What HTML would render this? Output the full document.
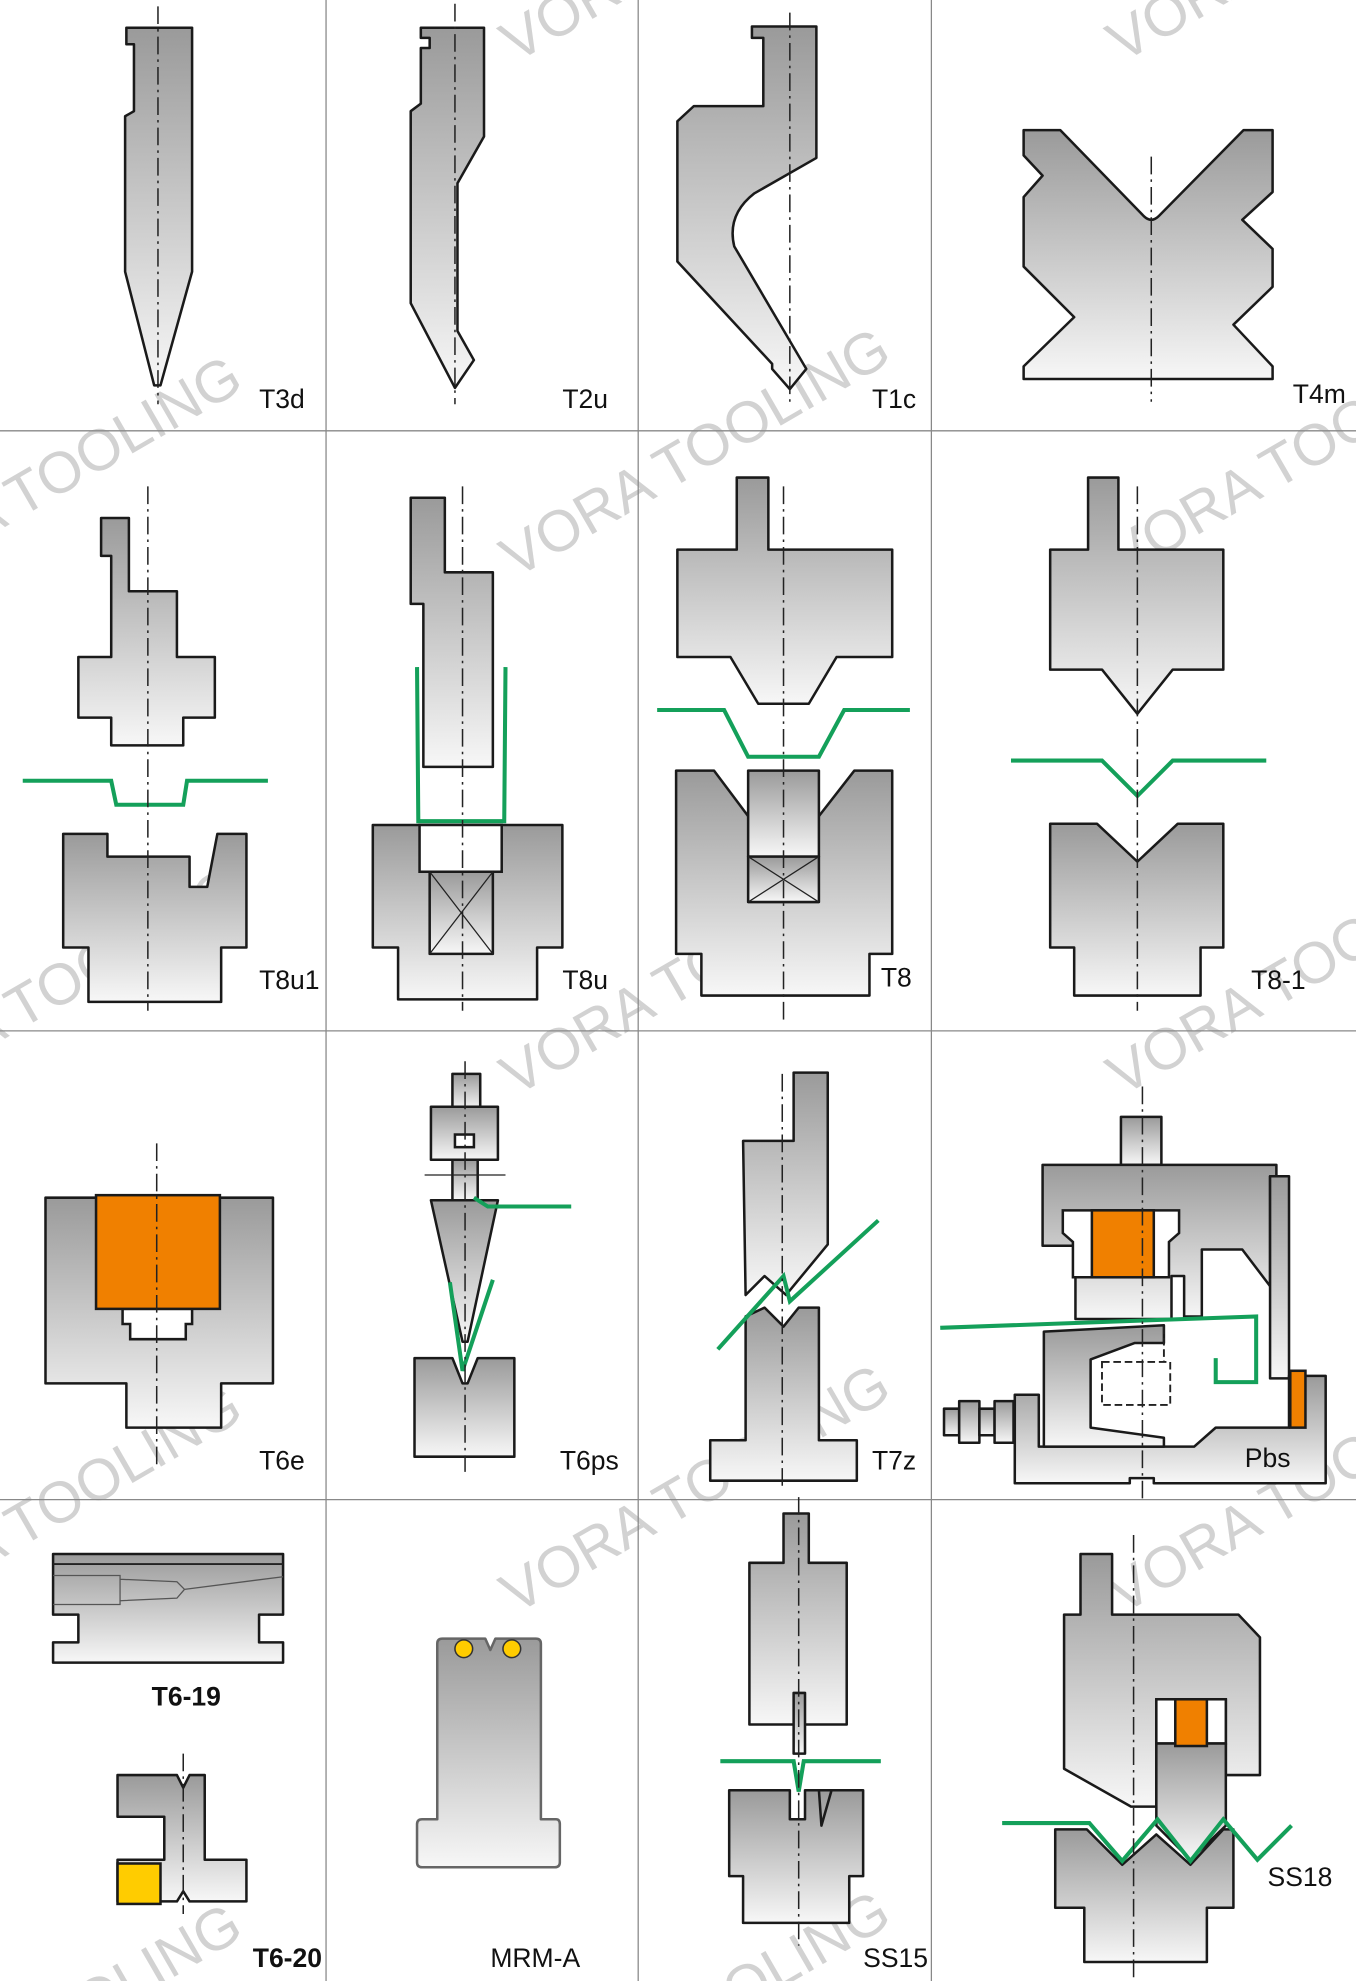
<!DOCTYPE html>
<html><head><meta charset="utf-8"><style>
html,body{margin:0;padding:0;background:#fff;width:1356px;height:1981px;overflow:hidden;}
svg{display:block;overflow:hidden;}
.s{fill:url(#g);stroke:#1a1a1a;stroke-width:2;stroke-linejoin:round;}
.c{stroke:#222;stroke-width:1.2;stroke-dasharray:14 4 2 4;fill:none;}
.gr{fill:none;stroke:#14a05a;stroke-width:3.2;stroke-linejoin:miter;}
.o{fill:#f08000;stroke:#1a1a1a;stroke-width:2;}
.w{fill:#fff;stroke:#1a1a1a;stroke-width:2;}
.l{font-family:"Liberation Sans Narrow","Liberation Sans",sans-serif;font-size:21px;fill:#111;}
.wm{font-family:"Liberation Sans",sans-serif;font-size:46px;fill:#d2d2d2;}
.grid{stroke:#888;stroke-width:1;}
</style></head><body>
<svg width="1356" height="1981" viewBox="0 0 1073 1568" preserveAspectRatio="none" xmlns="http://www.w3.org/2000/svg">
<defs>
<linearGradient id="g" x1="0" y1="0" x2="0" y2="1">
<stop offset="0" stop-color="#9a9a9a"/><stop offset="1" stop-color="#f7f7f7"/>
</linearGradient>
</defs>
<rect width="1073" height="1568" fill="#fff"/>

<!-- watermarks -->
<g class="wm">
<text transform="translate(408,50) rotate(-30)">VORA TOOLING</text>
<text transform="translate(888,50) rotate(-30)">VORA TOOLING</text>
<text transform="translate(-105,480) rotate(-30)">VORA TOOLING</text>
<text transform="translate(408,458) rotate(-30)">VORA TOOLING</text>
<text transform="translate(888,458) rotate(-30)">VORA TOOLING</text>
<text transform="translate(-105,885) rotate(-30)">VORA TOOLING</text>
<text transform="translate(408,868) rotate(-30)">VORA TOOLING</text>
<text transform="translate(888,868) rotate(-30)">VORA TOOLING</text>
<text transform="translate(-105,1295) rotate(-30)">VORA TOOLING</text>
<text transform="translate(408,1278) rotate(-30)">VORA TOOLING</text>
<text transform="translate(888,1278) rotate(-30)">VORA TOOLING</text>
<text transform="translate(-105,1705) rotate(-30)">VORA TOOLING</text>
<text transform="translate(408,1695) rotate(-30)">VORA TOOLING</text>
</g>

<!-- grid -->
<g class="grid">
<line x1="258" y1="0" x2="258" y2="1568"/><line x1="505" y1="0" x2="505" y2="1568"/><line x1="737" y1="0" x2="737" y2="1568"/>
<line x1="0" y1="341" x2="1073" y2="341"/><line x1="0" y1="816" x2="1073" y2="816"/><line x1="0" y1="1187" x2="1073" y2="1187"/>
</g>

<!-- T3d -->
<polygon class="s" points="100,22 152,22 152,215 127,305 122,305 99,215 99,92 106,88 106,35 100,35"/>
<line class="c" x1="125" y1="5" x2="125" y2="320"/>
<text class="l" x="205" y="323">T3d</text>

<!-- T2u -->
<polygon class="s" points="333,22 383,22 383,108 362,145 362,262 375,285 360,307 325,240 325,88 333,82 333,38 340,38 340,30 333,30"/>
<line class="c" x1="360" y1="3" x2="360" y2="320"/>
<text class="l" x="445" y="323">T2u</text>

<!-- T1c -->
<path class="s" d="M595,21 L646,21 L646,125 L597,153 Q575,170 581,195 L638,292 L625,308 L611,292 L611,288 L536,207 L536,96 L549,84 L604,84 L604,30 L595,30 Z"/>
<line class="c" x1="625" y1="10" x2="625" y2="320"/>
<text class="l" x="690" y="323">T1c</text>

<!-- T4m -->
<path class="s" d="M810,103 L839,103 L905,171 Q911,177 917,171 L984,103 L1007,103 L1007,152 L983,174 L1007,197 L1007,227 L976,257 L1007,290 L1007,300 L810,300 L810,290 L850,251 L810,211 L810,156 L825,139 L810,123 Z"/>
<line class="c" x1="911" y1="124" x2="911" y2="318"/>
<text class="l" x="1023" y="319">T4m</text>

<!-- T8u1 -->
<polygon class="s" points="80,410 102,410 102,468 140,468 140,520 170,520 170,568 145,568 145,590 88,590 88,568 62,568 62,520 88,520 88,440 80,440"/>
<polyline class="gr" points="18,618 88,618 92,637 145,637 148,618 212,618"/>
<polygon class="s" points="50,660 85,660 85,678 150,678 150,702 164,702 172,660 195,660 195,750 175,750 175,793 70,793 70,750 50,750"/>
<line class="c" x1="117" y1="385" x2="117" y2="800"/>
<text class="l" x="205" y="783">T8u1</text>

<!-- T8u -->
<polygon class="s" points="325,394 352,394 352,453 390,453 390,607 335,607 335,478 325,478"/>
<polyline class="gr" points="330,528 331,650 399,650 400,528"/>
<polygon class="s" points="295,653 445,653 445,750 425,750 425,791 315,791 315,750 295,750"/>
<rect class="w" x="332" y="653" width="65" height="37"/>
<rect class="s" x="340" y="690" width="50" height="65"/>
<path d="M340,690 L390,755 M390,690 L340,755" stroke="#222" stroke-width="1"/>
<line class="c" x1="366" y1="385" x2="366" y2="800"/>
<text class="l" x="445" y="783">T8u</text>

<!-- T8 -->
<polygon class="s" points="583,378 608,378 608,435 706,435 706,520 662,520 640,557 600,557 578,520 536,520 536,435 583,435"/>
<polyline class="gr" points="520,562 573,562 592,599 648,599 668,562 720,562"/>
<polygon class="s" points="535,610 565,610 592,646 648,646 676,610 706,610 706,755 688,755 688,788 555,788 555,755 535,755"/>
<rect class="s" x="592" y="610" width="56" height="68"/>
<rect class="s" x="592" y="678" width="56" height="36"/>
<path d="M592,678 L648,714 M648,678 L592,714" stroke="#222" stroke-width="1"/>
<line class="c" x1="620" y1="385" x2="620" y2="810"/>
<text class="l" x="697" y="781">T8</text>

<!-- T8-1 -->
<polygon class="s" points="861,378 885,378 885,435 968,435 968,530 928,530 900,565 872,530 831,530 831,435 861,435"/>
<polyline class="gr" points="800,602 872,602 900,630 928,602 1002,602"/>
<polygon class="s" points="831,652 868,652 900,682 932,652 968,652 968,750 950,750 950,788 850,788 850,750 831,750"/>
<line class="c" x1="900" y1="385" x2="900" y2="800"/>
<text class="l" x="990" y="783">T8-1</text>

<!-- T6e -->
<polygon class="s" points="36,948 216,948 216,1095 175,1095 175,1130 100,1130 100,1095 36,1095"/>
<polygon class="w" points="97,1036 152,1036 152,1048 147,1048 147,1060 103,1060 103,1048 97,1048"/>
<rect class="o" x="76" y="946" width="98" height="90"/>
<line class="c" x1="124" y1="905" x2="124" y2="1160"/>
<text class="l" x="205" y="1163">T6e</text>

<!-- T6ps -->
<rect class="s" x="358" y="850" width="22" height="28"/>
<rect class="s" x="341" y="876" width="53" height="42"/>
<rect class="w" x="360" y="898" width="15" height="10"/>
<rect class="s" x="358" y="918" width="20" height="32"/>
<line x1="336" y1="930" x2="400" y2="930" stroke="#222" stroke-width="1"/>
<polygon class="s" points="341,950 394,950 370,1062 366,1062"/>
<polyline class="gr" points="375,948 386,955 452,955"/>
<polygon class="s" points="328,1075 358,1075 366,1095 370,1095 378,1075 407,1075 407,1153 328,1153"/>
<polyline class="gr" points="356,1015 366,1085 390,1013"/>
<line class="c" x1="368" y1="840" x2="368" y2="1165"/>
<text class="l" x="443" y="1163">T6ps</text>

<!-- T7z -->
<polygon class="s" points="628,849 655,849 655,985 622,1025 605,1010 590,1025 588,903 628,903"/>
<polygon class="s" points="590,1042 605,1035 620,1050 632,1035 648,1035 648,1140 678,1140 678,1172 562,1172 562,1140 590,1140"/>
<polyline class="gr" points="568,1068 620,1010 625,1030 695,966"/>
<line class="c" x1="619" y1="850" x2="619" y2="1180"/>
<text class="l" x="690" y="1163">T7z</text>

<!-- Pbs -->
<rect class="s" x="887" y="884" width="32" height="38"/>
<polygon class="s" points="825,922 1010,922 1010,931 1005,931 1005,1018 983,989 951,989 951,1042 937,1042 937,1010 927,1010 927,1044 851,1044 851,986 825,986"/>
<polygon class="w" points="841,958 933,958 933,976 925,983 925,1011 849,1011 849,983 841,976"/>
<rect class="o" x="864" y="958" width="49" height="53"/>
<rect class="s" x="1005" y="931" width="15" height="160"/>
<polygon class="s" points="803,1104 822,1104 822,1145 945,1145 962,1130 1020,1130 1020,1089 1049,1089 1049,1174 913,1174 913,1170 894,1170 894,1174 803,1174"/>
<polygon class="s" points="826,1054 921,1049 921,1063 898,1063 863,1076 863,1130 921,1138 921,1145 826,1145"/>
<rect class="o" x="1021" y="1085" width="12" height="45"/>
<rect class="s" x="747" y="1115" width="12" height="21"/>
<rect class="s" x="759" y="1109" width="16" height="33"/>
<rect class="s" x="775" y="1115" width="12" height="21"/>
<rect class="s" x="787" y="1109" width="15" height="33"/>
<path d="M872,1078 L926,1078 L926,1112 L872,1112 Z M921,1050 L921,1078" fill="none" stroke="#222" stroke-width="1.5" stroke-dasharray="6 3"/>
<polyline class="gr" points="744,1051 994,1042 994,1094 962,1094 962,1075"/>
<line class="c" x1="904" y1="860" x2="904" y2="1187"/>
<text class="l" x="985" y="1161">Pbs</text>

<!-- T6-19 -->
<polygon class="s" points="42,1230 224,1230 224,1278 205,1278 205,1300 224,1300 224,1316 42,1316 42,1300 62,1300 62,1278 42,1278"/>
<line x1="42" y1="1238" x2="224" y2="1238" stroke="#222" stroke-width="1.5"/>
<path d="M42,1247 L95,1247 L95,1270 L42,1270 M95,1250 L140,1252 L146,1258 L140,1265 L95,1267 M146,1258 L224,1248" fill="none" stroke="#555" stroke-width="1"/>
<text class="l" x="120" y="1350" font-weight="bold">T6-19</text>

<!-- T6-20 -->
<polygon class="s" points="93,1405 140,1405 145,1415 150,1405 162,1405 162,1472 195,1472 195,1505 150,1505 145,1497 140,1505 93,1505 93,1472 130,1472 130,1438 93,1438"/>
<rect x="93" y="1475" width="34" height="32" fill="#ffcc00" stroke="#1a1a1a" stroke-width="2"/>
<line class="c" x1="145" y1="1388" x2="145" y2="1515"/>
<text class="l" x="200" y="1557" font-weight="bold">T6-20</text>

<!-- MRM-A -->
<path class="s" style="stroke:#666" d="M350,1297 L384,1297 L388,1306 L392,1297 L424,1297 Q428,1297 428,1301 L428,1440 L440,1440 Q443,1440 443,1444 L443,1474 Q443,1478 439,1478 L334,1478 Q330,1478 330,1474 L330,1444 Q330,1440 334,1440 L346,1440 L346,1301 Q346,1297 350,1297 Z"/>
<circle cx="367" cy="1305" r="7" fill="#ffcc00" stroke="#333" stroke-width="1.2"/>
<circle cx="405" cy="1305" r="7" fill="#ffcc00" stroke="#333" stroke-width="1.2"/>
<text class="l" x="388" y="1557">MRM-A</text>

<!-- SS15 -->
<polygon class="s" points="620,1198 640,1198 640,1237 670,1237 670,1365 593,1365 593,1237 620,1237"/>
<rect class="s" x="628" y="1340" width="9" height="48"/>
<polygon class="s" points="577,1417 625,1417 625,1440 637,1440 637,1417 650,1417 658,1417 650,1445 648,1417 683,1417 683,1485 672,1485 672,1522 588,1522 588,1485 577,1485"/>
<polyline class="gr" points="570,1394 628,1394 632,1418 636,1394 697,1394"/>
<line class="c" x1="632" y1="1185" x2="632" y2="1540"/>
<text class="l" x="683" y="1557">SS15</text>

<!-- SS18 -->
<polygon class="s" points="855,1230 880,1230 880,1278 980,1278 997,1296 997,1405 970,1405 970,1345 915,1345 915,1430 895,1430 842,1400 842,1278 855,1278"/>
<rect class="w" x="915" y="1345" width="55" height="35"/>
<polygon class="s" points="915,1380 970,1380 970,1445 942,1472 915,1445"/>
<rect class="o" x="930" y="1345" width="25" height="37"/>
<polygon class="s" points="835,1448 860,1448 888,1476 915,1452 942,1476 968,1448 976,1448 976,1510 955,1510 955,1553 858,1553 858,1510 835,1510"/>
<polyline class="gr" points="793,1443 862,1443 888,1473 916,1440 942,1473 968,1440 995,1472 1022,1445"/>
<line class="c" x1="897" y1="1215" x2="897" y2="1565"/>
<text class="l" x="1003" y="1493">SS18</text>
</svg>
</body></html>
